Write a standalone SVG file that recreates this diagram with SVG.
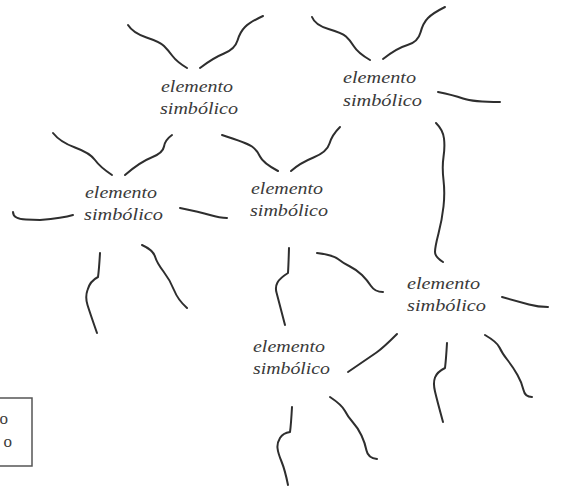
<svg xmlns="http://www.w3.org/2000/svg" width="563" height="486" viewBox="0 0 563 486">
<style>
.s{fill:none;stroke:#2e2e2e;stroke-width:2;stroke-linecap:round;stroke-linejoin:round}
.t{font-family:"Liberation Serif","Times New Roman",serif;font-style:italic;font-size:16.5px;fill:#3a3a3a}
.b{font-family:"Liberation Serif","Times New Roman",serif;font-size:17px;fill:#3a3a3a;text-anchor:end}
</style>
<rect width="563" height="486" fill="#ffffff"/>
<g id="connectors">
<path class="s" d="M128,25 Q133,33 146.5,37.5 Q160,42 164,46 Q168,50 172.5,56 Q177,62 187,68"/>
<path class="s" d="M200,68 Q213,58 224,53.5 Q235,49 237.5,40.5 Q240,32 245,27 Q250,22 263,16"/>
<path class="s" d="M172,135 Q165,140 164,146.5 Q163,153 151.5,157.5 Q140,162 125,175"/>
<path class="s" d="M222,135 Q247,143 252,146.5 Q257,150 260,156.5 Q263,163 278,171"/>
<path class="s" d="M312,17 Q315,25 328.5,29 Q342,33 346,36.5 Q350,40 354,46.5 Q358,53 370,60"/>
<path class="s" d="M383,59 Q397,48 407.5,45 Q418,42 420.5,32.5 Q423,23 428,18 Q433,13 445,7"/>
<path class="s" d="M438,92 Q453,95 463,98.5 Q473,102 500,102"/>
<path class="s" d="M436,123 Q443,130 444,138.5 Q445,147 443.5,157 Q442,167 443.5,180 Q445,193 443.5,206.5 Q442,220 438.5,233.5 Q435,247 435,252 Q435,257 443,262"/>
<path class="s" d="M53,133 Q60,142 75,147.5 Q90,153 95,160 Q100,167 112,175"/>
<path class="s" d="M13,212 Q13,219 26,219.5 L40,220 Q63,218 73,215"/>
<path class="s" d="M180,208 Q200,212 210,215 Q220,218 227,218"/>
<path class="s" d="M100,253 Q99,270 98,277 Q90,281 87.5,290 Q85,297 87.5,305 Q90,313 97,333"/>
<path class="s" d="M142,245 Q153,250 155,256.5 Q157,263 163.5,271.5 Q170,280 174,290 Q178,300 187,308"/>
<path class="s" d="M291,171 Q300,163 313.5,157.5 Q327,152 329.5,143.5 Q332,135 340,127"/>
<path class="s" d="M289,248 Q288.5,265 288,273 Q280,278 277.5,282.5 Q275,287 276.5,292.5 Q278,298 285,325"/>
<path class="s" d="M317,253 Q333,255 338,259 Q343,263 350,266.5 Q357,270 362,275 Q367,280 371,286 Q375,292 383,292"/>
<path class="s" d="M397,334 Q383,348 376.5,352.5 Q370,357 348,372"/>
<path class="s" d="M502,297 Q520,302 529,304.5 Q538,307 548,307"/>
<path class="s" d="M447,343 Q446,360 445,368 Q437,372 435,377.5 Q433,383 435,391.5 Q437,400 443,422"/>
<path class="s" d="M485,335 Q497,342 499.5,347.5 Q502,353 507.5,360 Q513,367 517.5,375 Q522,383 523.5,390 Q525,397 532,397"/>
<path class="s" d="M292,407 Q291,425 290,432 Q283,433 280,438 Q277,443 277.5,448 Q278,453 281.5,461.5 Q285,470 288,485"/>
<path class="s" d="M330,397 Q342,405 345,411 Q348,417 353,422.5 Q358,428 361.5,435.5 Q365,443 366.5,450.5 Q368,458 377,459"/>
</g>
<g id="node1"><text class="t" x="161" y="92" textLength="72" lengthAdjust="spacingAndGlyphs">elemento</text><text class="t" x="160" y="114" textLength="78" lengthAdjust="spacingAndGlyphs">simbólico</text></g>
<g id="node2"><text class="t" x="343" y="83" textLength="73" lengthAdjust="spacingAndGlyphs">elemento</text><text class="t" x="343" y="106" textLength="79" lengthAdjust="spacingAndGlyphs">simbólico</text></g>
<g id="node3"><text class="t" x="85" y="198" textLength="72" lengthAdjust="spacingAndGlyphs">elemento</text><text class="t" x="84" y="220" textLength="79" lengthAdjust="spacingAndGlyphs">simbólico</text></g>
<g id="node4"><text class="t" x="251" y="194" textLength="72" lengthAdjust="spacingAndGlyphs">elemento</text><text class="t" x="250" y="216" textLength="78" lengthAdjust="spacingAndGlyphs">simbólico</text></g>
<g id="node5"><text class="t" x="407" y="289" textLength="73" lengthAdjust="spacingAndGlyphs">elemento</text><text class="t" x="407" y="311" textLength="79" lengthAdjust="spacingAndGlyphs">simbólico</text></g>
<g id="node6"><text class="t" x="253" y="352" textLength="72" lengthAdjust="spacingAndGlyphs">elemento</text><text class="t" x="253" y="374" textLength="77" lengthAdjust="spacingAndGlyphs">simbólico</text></g>
<g id="legend"><rect x="-2" y="398" width="34" height="68" fill="none" stroke="#555555" stroke-width="1.5"/><text class="b" x="8" y="424">o</text><text class="b" x="12" y="447">o</text></g>
</svg>
